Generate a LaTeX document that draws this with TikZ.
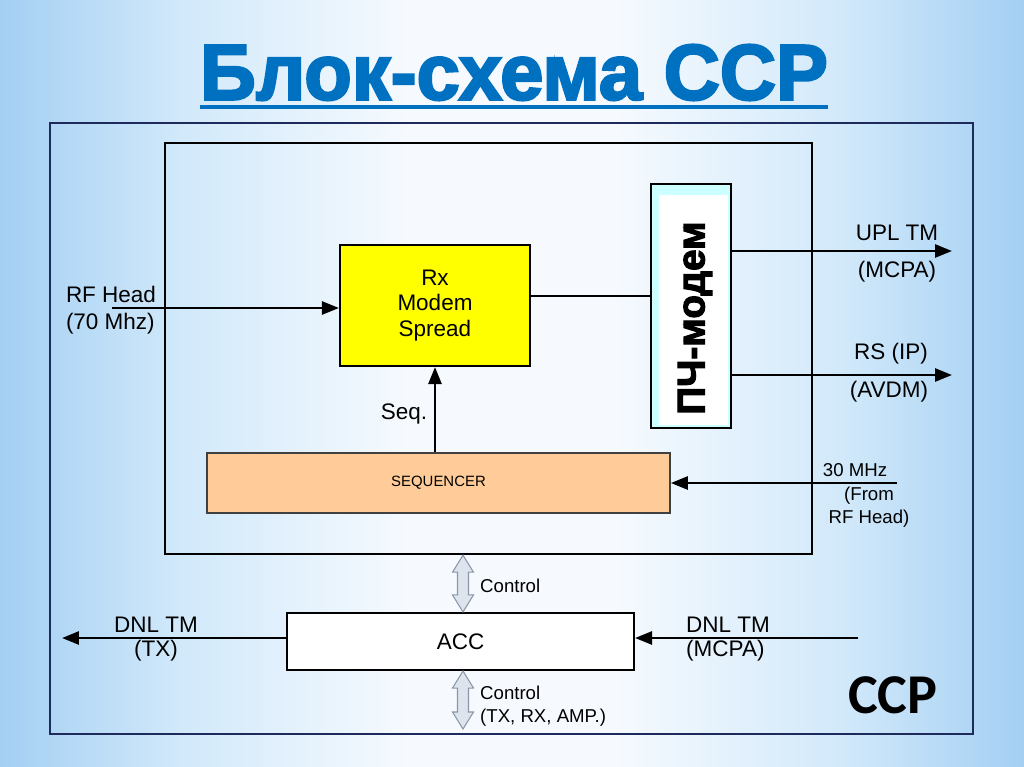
\documentclass[tikz,border=0pt]{standalone}
\usepackage{fontspec}
\usepackage{graphicx}
\setmainfont{Liberation Sans}
\newfontfamily\carlito{Carlito}
\newfontfamily\heavyfont[BoldFeatures={FakeBold=3}]{Liberation Sans}
\usetikzlibrary{arrows.meta,calc}
\definecolor{titleblue}{HTML}{0070C0}
\definecolor{frameblue}{HTML}{1F2A5C}
\definecolor{rxyellow}{HTML}{FFFF00}
\definecolor{seqpeach}{HTML}{FFCC99}
\definecolor{pchcyan}{HTML}{CCFFFF}
\definecolor{ctrlfill}{HTML}{DDE4EE}
\definecolor{ctrldraw}{HTML}{8A97A8}
\definecolor{skyedge}{HTML}{A3CFF3}
\definecolor{skymid}{HTML}{D2E9FA}
\definecolor{skyc}{HTML}{F6FAFE}
\pgfdeclarehorizontalshading{sky}{100bp}{color(0bp)=(skyedge); color(25bp)=(skyedge); color(34bp)=(skymid); color(45bp)=(skyc); color(55bp)=(skyc); color(66bp)=(skymid); color(75bp)=(skyedge); color(100bp)=(skyedge)}

\begin{document}
\begin{tikzpicture}[x=0.02cm, y=-0.02cm, font=\fontsize{12.8}{14.7}\selectfont,
  block/.style={draw=black, line width=1.2pt, inner sep=0pt, align=center},
  small/.style={font=\fontsize{10.6}{13}\selectfont},
  arrowline/.style={-{Triangle[length=0.34cm, width=0.26cm]}, line width=1.5pt},
  ctrl/.style={fill=ctrlfill, draw=ctrldraw, line width=0.6pt}]
\useasboundingbox (0,0) rectangle (1024,767);
\shade[shading=sky] (0,0) rectangle (1024,767);
% title
\node[font=\heavyfont\bfseries, text=titleblue, inner sep=0pt] (title) at (514,72.5) {\resizebox{12.56cm}{1.1cm}{Блок-схема ССР}};
\draw[titleblue, line width=0.08cm] (title.west |- 0,107) -- (title.east |- 0,107);
% frames and blocks
\node[draw=frameblue, line width=0.8pt, minimum width=18.46cm, minimum height=12.22cm, inner sep=0pt] (ccp) at (511.5,428.5) {};
\node[draw, line width=1.4pt, minimum width=12.94cm, minimum height=8.22cm, inner sep=0pt] (board) at (488.5,348.5) {};
\node[block, fill=rxyellow, minimum width=3.8cm, minimum height=2.42cm] (rx) at (435,305.5) {Rx\\Modem\\Spread};
\node[block, line width=1pt, fill=pchcyan, minimum width=1.6cm, minimum height=4.88cm,
  path picture={\fill[white] ($(path picture bounding box.north west)+(0.16cm,-0.22cm)$) rectangle ($(path picture bounding box.south east)+(-0.06cm,0.06cm)$);}] (pch) at (691,306) {};
\node[rotate=90, font=\heavyfont\bfseries\fontsize{22}{26}\selectfont, inner sep=0pt] (pchtext) at (695,318) {ПЧ-модем};
\node[block, line width=1pt, draw=black!75, fill=seqpeach, minimum width=9.26cm, minimum height=1.2cm, font=\fontsize{8.5}{10}\selectfont] (seq) at (438.5,483) {SEQUENCER};
\node[block, fill=white, minimum width=6.94cm, minimum height=1.14cm] (acc) at (460.5,641.5) {ACC};
% labels
\node[align=left, font=\fontsize{12.8}{15.3}\selectfont] (rflbl) at (111,310) {RF Head\\(70 Mhz)};
\node (seqlbl) at (404,414) {Seq.};
\node (upllbl) at (897,233) {UPL TM};
\node (mcpalbl) at (897,272) {(MCPA)};
\node (rslbl) at (891,354) {RS (IP)};
\node (avdmlbl) at (889,392) {(AVDM)};
\node[small] (mhzlbl) at (855,470) {30 MHz};
\node[small, align=center] (fromlbl) at (869,507) {(From\\RF Head)};
\node[align=center, font=\fontsize{12.8}{13.6}\selectfont] (txlbl) at (156,639) {DNL TM\\(TX)};
\node[align=left, anchor=west, font=\fontsize{12.8}{13.6}\selectfont] (dnllbl) at (680,639) {DNL TM\\(MCPA)};
\node[small, anchor=west] (ctllbl) at (474,586) {Control};
\node[small, align=left, anchor=west] (ctlsub) at (474,706) {Control\\(TX, RX, AMP.)};
\node[font=\carlito\bfseries\fontsize{32}{36}\selectfont] (ccplbl) at (893,695) {ССР};
% connectors
\coordinate (rfin) at (112,308);
\coordinate (uplend) at (952,251);
\coordinate (rsend) at (952,375);
\coordinate (mhzin) at (897,483);
\coordinate (txend) at (62,638);
\coordinate (mcpain) at (858,638);
\coordinate (ctlend) at (463,729);
\draw[arrowline] (rfin) -- (rfin -| rx.west);
\draw[line width=1.5pt] (rx.east |- 0,296) -- (pch.west |- 0,296);
\draw[arrowline] (uplend -| pch.east) -- (uplend);
\draw[arrowline] (rsend -| pch.east) -- (rsend);
\draw[arrowline] (seq.north -| rx.south) -- (rx.south);
\draw[arrowline] (mhzin) -- (mhzin -| seq.east);
\draw[arrowline] (acc.west |- txend) -- (txend);
\draw[arrowline] (mcpain) -- (mcpain -| acc.east);
% control arrows
\coordinate (c1) at (board.south -| ctlend);
\coordinate (c2) at (acc.north -| ctlend);
\coordinate (c3) at (acc.south -| ctlend);
\foreach \a/\b in {c1/c2, c3/ctlend}
  \draw[ctrl] (\a) -- ($(\a)+(10.5,17)$) -- ($(\a)+(5.5,17)$) -- ($(\b)+(5.5,-17)$) -- ($(\b)+(10.5,-17)$) -- (\b)
    -- ($(\b)+(-10.5,-17)$) -- ($(\b)+(-5.5,-17)$) -- ($(\a)+(-5.5,17)$) -- ($(\a)+(-10.5,17)$) -- cycle;
\end{tikzpicture}
\end{document}
